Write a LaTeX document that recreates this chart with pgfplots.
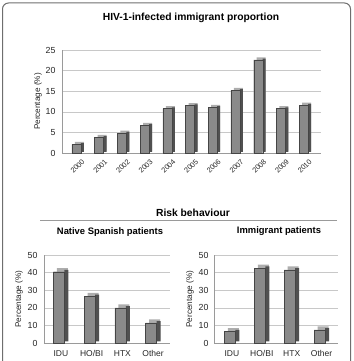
\documentclass[border=0pt]{standalone}
\usepackage{fontspec}
\setmainfont{Liberation Sans}
\usepackage{pgfplots}
\usepackage{pgfplotstable}
\pgfplotsset{compat=1.18}

\definecolor{barfront}{HTML}{8A8A8A}
\definecolor{bartop}{HTML}{ADADAD}
\definecolor{barside}{HTML}{505050}
\definecolor{baredge}{HTML}{454545}
\definecolor{gridc}{HTML}{C8C8C8}
\definecolor{axisc}{HTML}{9A9A9A}
\definecolor{framec}{HTML}{6E6E6E}

\pgfplotstableread{
x val
0 2.1
1 3.8
2 4.8
3 6.7
4 10.8
5 11.5
6 11.1
7 15.2
8 22.6
9 10.8
10 11.6
}\yeardata

\pgfplotstableread{
x val
0 40.5
1 26.5
2 20.0
3 11.5
}\nativedata

\pgfplotstableread{
x val
0 6.5
1 42.5
2 41.5
3 7.5
}\immigrantdata

\pgfplotsset{
  common/.style={
    scale only axis,
    anchor=south west,
    /pgf/number format/assume math mode=true,
    axis x line=bottom, axis y line=left,
    axis line style={-, draw=axisc, line width=0.6pt},
    ymajorgrids, grid style={gridc, line width=0.6pt},
    major tick length=0pt,
    ymin=0,
    yticklabel style={font=\fontsize{8.8}{10}\selectfont, text=black!85, xshift=-3pt},
    xticklabel style={font=\fontsize{8.5}{10}\selectfont, text=black!85},
    label style={font=\fontsize{8.2}{10}\selectfont, text=black!85},
    clip=false,
  },
  topface/.style={ybar, bar width=#1, fill=bartop, draw=none},
  sideface/.style={ybar, bar width=#1, fill=barside, draw=none},
  frontface/.style={ybar, bar width=#1, fill=barfront, draw=baredge, line width=0.3pt},
}

\begin{document}
\begin{tikzpicture}
\useasboundingbox (0pt,0pt) rectangle (353pt,-361pt);
\draw[framec, line width=1pt, rounded corners=6pt] (2.5pt,-365pt) -- (2.5pt,-3pt) -- (350.5pt,-3pt) -- (350.5pt,-365pt);

\node[font=\fontsize{10.3}{12}\selectfont\bfseries] at (191pt,-17.5pt) {HIV-1-infected immigrant proportion};
\node[font=\fontsize{10.3}{12}\selectfont\bfseries] at (193pt,-213pt) {Risk behaviour};
\draw[axisc, line width=1.2pt] (40pt,-220.5pt) -- (337pt,-220.5pt);
\node[font=\fontsize{9.4}{11}\selectfont\bfseries] at (110pt,-232pt) {Native Spanish patients};
\node[font=\fontsize{9.4}{11}\selectfont\bfseries] at (279pt,-231pt) {Immigrant patients};

% top chart
\begin{axis}[common,
  at={(62pt,-153pt)}, width=259pt, height=103pt,
  xmin=-0.7, xmax=10.7, ymax=25, ytick={0,5,...,25},
  xtick={0,...,10},
  xticklabels={2000,2001,2002,2003,2004,2005,2006,2007,2008,2009,2010},
  xticklabel style={rotate=45, anchor=north east, font=\fontsize{7.3}{9}\selectfont, xshift=2pt, yshift=-3pt},
  ylabel={Percentage (\%)},
  ylabel style={yshift=-3pt},
]
\addplot[topface=9pt, bar shift=1.5pt, yshift=2.5pt] table[x=x,y=val] {\yeardata};
\addplot[sideface=3pt, bar shift=4.5pt, yshift=1.25pt] table[x=x,y=val] {\yeardata};
\addplot[frontface=9pt, bar shift=-1.5pt] table[x=x,y=val] {\yeardata};
\end{axis}

% bottom left
\begin{axis}[common,
  at={(44pt,-343pt)}, width=126pt, height=88pt,
  xmin=-0.55, xmax=3.55, ymax=50, ytick={0,10,...,50},
  xtick={0,...,3}, xticklabels={IDU,HO/BI,HTX,Other},
  xticklabel style={yshift=-4pt},
  ylabel={Percentage (\%)},
  ylabel style={yshift=-2pt},
]
\addplot[topface=11pt, bar shift=1.5pt, yshift=3.5pt] table[x=x,y=val] {\nativedata};
\addplot[sideface=4pt, bar shift=5.5pt, yshift=1.75pt] table[x=x,y=val] {\nativedata};
\addplot[frontface=11pt, bar shift=-2pt] table[x=x,y=val] {\nativedata};
\end{axis}

% bottom right
\begin{axis}[common,
  at={(214pt,-343pt)}, width=124pt, height=88pt,
  xmin=-0.6, xmax=3.55, ymax=50, ytick={0,10,...,50},
  xtick={0,...,3}, xticklabels={IDU,HO/BI,HTX,Other},
  xticklabel style={yshift=-4pt},
  yticklabel style={xshift=1pt},
  ylabel={Percentage (\%)},
  ylabel style={yshift=-2pt},
]
\addplot[topface=11pt, bar shift=1.5pt, yshift=3.5pt] table[x=x,y=val] {\immigrantdata};
\addplot[sideface=4pt, bar shift=5.5pt, yshift=1.75pt] table[x=x,y=val] {\immigrantdata};
\addplot[frontface=11pt, bar shift=-2pt] table[x=x,y=val] {\immigrantdata};
\end{axis}
\end{tikzpicture}
\end{document}
